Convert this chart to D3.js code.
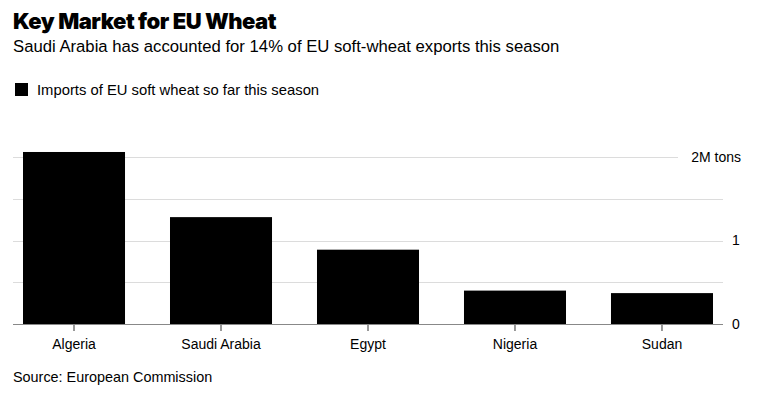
<!DOCTYPE html>
<html>
<head>
<meta charset="utf-8">
<script src="https://cdn.jsdelivr.net/npm/d3@7"></script>
<style>
  body { margin: 0; background: #fff; }
  text { font-family: "Liberation Sans", Arial, sans-serif; fill: #000; }
</style>
</head>
<body>
<svg id="chart" width="760" height="393"></svg>
<script>
// data, million tons
var countries = ['Algeria', 'Saudi Arabia', 'Egypt', 'Nigeria', 'Sudan'];
var imports = [2.06, 1.28, 0.89, 0.40, 0.37];
var yTicks = [0, 0.5, 1, 1.5, 2];
var yLabels = {0: '0', 1: '1', 2: '2M tons'};

var svg = d3.select('#chart');

var x = d3.scaleBand()
    .domain(countries)
    .range([23, 713])
    .paddingInner(0.306)
    .paddingOuter(0);

var y = d3.scaleLinear()
    .domain([0, 2])
    .range([324, 157]);

// title block
svg.append('text')
    .attr('x', 13).attr('y', 29)
    .style('font-family', 'Inter, "Liberation Sans", sans-serif')
    .style('font-weight', 900)
    .style('font-size', '22px')
    .style('letter-spacing', '-0.5px')
    .text('Key Market for EU Wheat');

svg.append('text')
    .attr('x', 13).attr('y', 52)
    .style('font-size', '16.7px')
    .text('Saudi Arabia has accounted for 14% of EU soft-wheat exports this season');

// legend
svg.append('rect')
    .attr('x', 15).attr('y', 83)
    .attr('width', 13).attr('height', 13)
    .attr('fill', '#000');
svg.append('text')
    .attr('x', 37).attr('y', 95)
    .style('font-size', '14.8px')
    .text('Imports of EU soft wheat so far this season');

// gridlines
svg.append('g').selectAll('line')
    .data(yTicks.filter(function(d){ return d > 0; }))
    .enter().append('line')
    .attr('x1', 13)
    .attr('x2', function(d){ return d == 2 ? 678 : 723; })
    .attr('y1', function(d){ return Math.round(y(d)) + 0.5; })
    .attr('y2', function(d){ return Math.round(y(d)) + 0.5; })
    .attr('stroke', '#dcdcdc')
    .attr('stroke-width', 1);

// bars
svg.append('g').selectAll('rect')
    .data(countries)
    .enter().append('rect')
    .attr('x', function(d){ return x(d); })
    .attr('width', x.bandwidth())
    .attr('y', function(d, i){ return y(imports[i]); })
    .attr('height', function(d, i){ return y(0) - y(imports[i]); })
    .attr('fill', '#000');

// zero line
svg.append('line')
    .attr('x1', 13).attr('x2', 723)
    .attr('y1', y(0) + 0.5).attr('y2', y(0) + 0.5)
    .attr('stroke', '#888').attr('stroke-width', 1);

// y labels on right
svg.append('g').selectAll('text')
    .data(yTicks.filter(function(d){ return yLabels[d] !== undefined; }))
    .enter().append('text')
    .attr('x', function(d){ return d == 2 ? 741 : 732; })
    .attr('y', function(d){ return y(d); })
    .attr('dy', '0.35em')
    .attr('text-anchor', function(d){ return d == 2 ? 'end' : 'start'; })
    .style('font-size', '14px')
    .text(function(d){ return yLabels[d]; });

// x axis
var xAxis = svg.append('g')
    .attr('transform', 'translate(0,' + (y(0) + 1) + ')')
    .call(d3.axisBottom(x).tickSize(6).tickSizeOuter(0).tickPadding(8));
xAxis.select('.domain').remove();
xAxis.selectAll('line').attr('stroke', '#333');
xAxis.selectAll('text')
    .style('font-family', '"Liberation Sans", Arial, sans-serif')
    .style('font-size', '14px')
    .attr('fill', '#000');

svg.append('text')
    .attr('x', 13).attr('y', 382)
    .style('font-size', '14.4px')
    .text('Source: European Commission');
</script>
</body>
</html>
